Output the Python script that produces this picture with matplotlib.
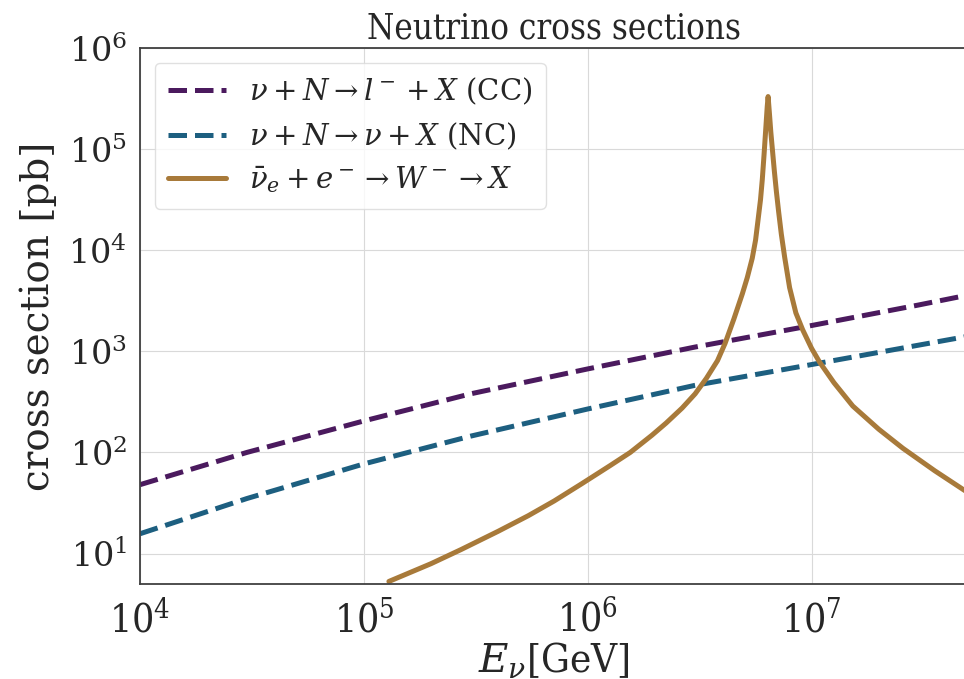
import matplotlib
matplotlib.use("Agg")
import matplotlib.pyplot as plt
import seaborn as sns

# ---- data ----
cc_E = [1e4, 3e4, 1e5, 3e5, 1e6, 3e6, 1e7, 3e7, 5e7]
cc_sigma = [48, 100, 205, 380, 670, 1100, 1800, 2870, 3600]

nc_E = [1e4, 3e4, 1e5, 3e5, 1e6, 3e6, 1e7, 3e7, 5e7]
nc_sigma = [15.7, 35, 77, 145, 269, 460, 740, 1150, 1410]

gr_E = [1.294e5, 1.995e5, 2.72e5, 3.98e5, 5.43e5, 7.08e5, 9.40e5, 1.259e6,
        1.549e6, 1.936e6, 2.239e6, 2.642e6, 3.02e6, 3.388e6, 3.802e6, 4.111e6,
        4.498e6, 4.909e6, 5.164e6, 5.433e6, 5.623e6, 5.754e6, 5.916e6, 6.026e6,
        6.138e6, 6.266e6, 6.339e6, 6.397e6,
        6.486e6, 6.577e6, 6.683e6, 6.823e6, 6.966e6, 7.129e6, 7.328e6, 7.586e6,
        7.980e6, 8.511e6, 9.120e6, 1.0e7, 1.086e7, 1.259e7, 1.528e7, 1.995e7,
        2.559e7, 3.548e7, 5.0e7]
gr_sigma = [5.30, 7.94, 10.96, 16.6, 23.7, 33.1, 49.0, 74.1,
            100, 148, 195, 275, 380, 540, 810, 1202,
            2089, 3715, 5370, 8318, 12590, 19050, 31620, 50120,
            89130, 177800, 263000, 331100,
            223900, 147900, 100000, 60260, 38020, 23990, 14450, 8511,
            4266, 2399, 1641, 1072, 783, 490, 288, 170,
            110, 66, 40]

labels = [r"$\nu + N \rightarrow l^- + X$ (CC)",
          r"$\nu + N \rightarrow \nu + X$ (NC)",
          r"$\bar{\nu}_e + e^- \rightarrow W^- \rightarrow X$"]
colors = ["#4b1a5e", "#1d5f80", "#a87a3a"]

sns.set_style("whitegrid")
plt.rcParams["font.family"] = ["DejaVu Serif"]
plt.rcParams["mathtext.fontset"] = "dejavuserif"
plt.rcParams["axes.edgecolor"] = "0.25"
plt.rcParams["grid.color"] = "0.85"

fig = plt.figure(figsize=(9.64, 6.79), dpi=100)
ax = fig.add_axes([140/964, 1-584/679, 828/964, (584-48)/679])

ax.plot(cc_E, cc_sigma, ls="--", lw=3.6, color=colors[0], label=labels[0])
ax.plot(nc_E, nc_sigma, ls="--", lw=3.6, color=colors[1], label=labels[1])
ax.plot(gr_E, gr_sigma, ls="-", lw=3.6, color=colors[2], label=labels[2],
        solid_joinstyle="round")

ax.set_xscale("log")
ax.set_yscale("log")
ax.set_xlim(1e4, 5e7)
ax.set_ylim(5, 1e6)

for s in ax.spines.values():
    s.set_linewidth(1.3)

ax.tick_params(axis="y", labelsize=24, pad=6)
ax.tick_params(axis="x", labelsize=28, pad=8)
for t in ax.get_xticklabels():
    t.set_fontstretch("condensed")

ax.set_ylabel("cross section [pb]", fontsize=28, labelpad=8)
ax.set_xlabel(r"$E_\nu$[GeV]", fontsize=29, fontstretch="condensed", labelpad=0)
ax.set_title("Neutrino cross sections", fontsize=25, fontstretch="condensed", pad=7)

leg = ax.legend(loc="upper left", fontsize=21, frameon=True, handlelength=2.0,
                borderpad=0.45, labelspacing=0.45)
leg.get_frame().set_edgecolor("0.85")

fig.savefig("out.png", dpi=100)
